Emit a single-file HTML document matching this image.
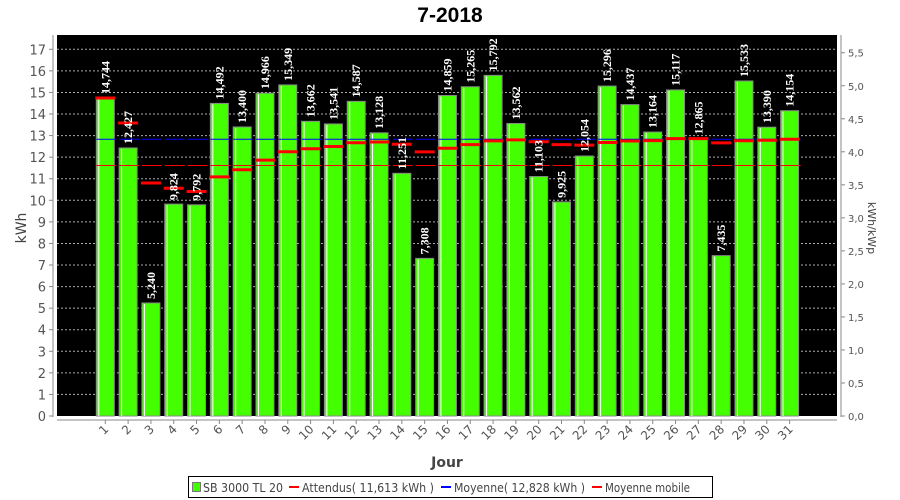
<!DOCTYPE html>
<html><head><meta charset="utf-8"><style>
body{margin:0;background:#fff;}
svg{display:block;font-family:"DejaVu Sans","Liberation Sans",sans-serif;}
</style></head><body>
<svg id="s" width="900" height="500" xmlns="http://www.w3.org/2000/svg">
<text x="450" y="22" text-anchor="middle" font-size="21" font-weight="bold" fill="#000" font-family="Liberation Sans,sans-serif">7-2018</text>
<rect x="57" y="35" width="780" height="381" fill="#000"/>
<g id="g"></g>
<line x1="53" y1="35" x2="53" y2="417" stroke="#888" stroke-width="1"/>
<line x1="57" y1="420" x2="837" y2="420" stroke="#888" stroke-width="1"/>
<line x1="841" y1="35" x2="841" y2="417" stroke="#888" stroke-width="1"/>
<text transform="translate(26,228) rotate(-90)" text-anchor="middle" font-size="14" fill="#444">kWh</text>
<text transform="translate(868,228) rotate(90)" text-anchor="middle" font-size="11" fill="#444">kWh/kWp</text>
<text x="447" y="467" text-anchor="middle" font-size="14" font-weight="bold" fill="#444">Jour</text>
<rect x="188.5" y="476.5" width="524" height="21" fill="#fff" stroke="#000"/>
<rect x="192.5" y="482.5" width="8" height="9" fill="#44ff00" stroke="#777"/>
<text x="203" y="492" font-size="12" fill="#444" textLength="80" lengthAdjust="spacingAndGlyphs">SB 3000 TL 20</text>
<rect x="289" y="486" width="10" height="2" fill="#f00"/>
<text x="302" y="492" font-size="12" fill="#444" textLength="132" lengthAdjust="spacingAndGlyphs">Attendus( 11,613 kWh )</text>
<rect x="441" y="486" width="10" height="2" fill="#00f"/>
<text x="454" y="492" font-size="12" fill="#444" textLength="131" lengthAdjust="spacingAndGlyphs">Moyenne( 12,828 kWh )</text>
<rect x="592" y="486" width="10" height="2" fill="#f00"/>
<text x="605" y="492" font-size="12" fill="#444" textLength="85" lengthAdjust="spacingAndGlyphs">Moyenne mobile</text>
</svg>
<script>
var d=[14.744,12.427,5.240,9.824,9.792,14.492,13.400,14.966,15.349,13.662,13.541,14.587,13.128,11.251,7.308,14.859,15.265,15.792,13.562,11.103,9.925,12.054,15.296,14.437,13.164,15.117,12.865,7.435,15.533,13.390,14.154];
var g=document.getElementById('g'),h='';
var Y=function(v){return 416-v*21.57;};
for(var i=0;i<=17;i++){var y=Y(i);
 if(i>0)h+='<line x1="57" y1="'+y+'" x2="837" y2="'+y+'" stroke="#aaa" stroke-dasharray="2,2" stroke-width="1"/>';
 h+='<line x1="49" y1="'+y+'" x2="53" y2="'+y+'" stroke="#888"/>';
 h+='<text x="46" y="'+(y+5)+'" text-anchor="end" font-size="13" fill="#555">'+i+'</text>';}
for(var j=0;j<=11;j++){var v=j*0.5,y=416-v*66.05;
 h+='<line x1="841" y1="'+y+'" x2="845" y2="'+y+'" stroke="#888"/>';
 h+='<text x="848" y="'+(y+4)+'" font-size="10" fill="#555">'+v.toFixed(1).replace('.',',')+'</text>';}
var sum=0;
for(var k=0;k<31;k++){var x=96.3+k*22.81,v=d[k],y=Y(v);sum+=v;var m=Y(sum/(k+1));
 h+='<rect x="'+x+'" y="'+y+'" width="18" height="'+(416-y)+'" fill="#44ff00" stroke="#888" stroke-width="1"/>';
 h+='<line x1="'+(x+2.5)+'" y1="'+(y+1)+'" x2="'+(x+2.5)+'" y2="416" stroke="#fff" stroke-width="1"/>';
 h+='<line x1="'+x+'" y1="'+Y(11.613)+'" x2="'+(x+20)+'" y2="'+Y(11.613)+'" stroke="#f00" stroke-width="1"/>';
 h+='<line x1="'+x+'" y1="'+Y(12.828)+'" x2="'+(x+20)+'" y2="'+Y(12.828)+'" stroke="#00f" stroke-width="1"/>';
 h+='<line x1="'+(x-1)+'" y1="'+m+'" x2="'+(x+19)+'" y2="'+m+'" stroke="#f00" stroke-width="3"/>';
 h+='<text transform="translate('+(x+13)+','+(y-4)+') rotate(-90)" font-size="12" font-weight="bold" fill="#fff" font-family="Liberation Serif,serif">'+v.toFixed(3).replace('.',',')+'</text>';
 var cx=x+9;
 h+='<line x1="'+cx+'" y1="420" x2="'+cx+'" y2="424" stroke="#888"/>';
 h+='<text transform="translate('+(cx+4)+','+430+') rotate(-45)" text-anchor="end" font-size="12" fill="#555">'+(k+1)+'</text>';}
g.innerHTML=h;
</script>
</body></html>
